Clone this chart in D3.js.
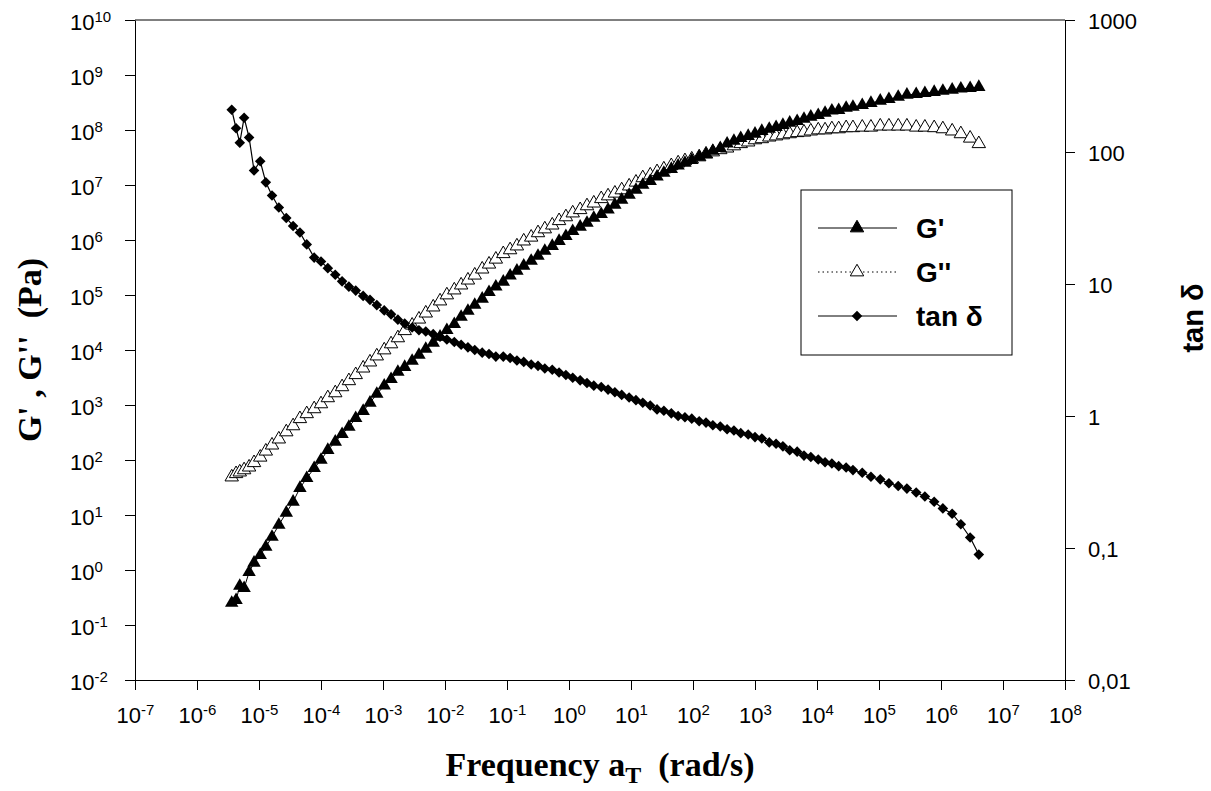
<!DOCTYPE html>
<html>
<head>
<meta charset="utf-8">
<script src="https://cdn.jsdelivr.net/npm/d3@7"></script>
<style>
  body { margin: 0; background: #fff; }
  text { fill: #000; }
</style>
</head>
<body>
<div id="chart"></div>
<script>
// values, stored as log10 (frequency in rad/s, moduli in Pa)
const logFreq = [-5.44, -5.37, -5.31, -5.24, -5.16, -5.08, -4.98, -4.89, -4.79, -4.68, -4.56, -4.45, -4.34,
  -4.23, -4.11, -4.00, -3.89, -3.77, -3.66, -3.55, -3.44, -3.32, -3.21,
  -3.10, -2.98, -2.87, -2.76, -2.65, -2.53, -2.42, -2.31, -2.19, -2.08,
  -1.97, -1.85, -1.74, -1.63, -1.52, -1.40, -1.29, -1.18, -1.06, -0.95,
  -0.84, -0.73, -0.61, -0.50, -0.39, -0.27, -0.16, -0.05, 0.06, 0.18,
  0.29, 0.40, 0.52, 0.63, 0.74, 0.85, 0.97, 1.08, 1.19, 1.31,
  1.42, 1.53, 1.65, 1.76, 1.87, 1.98, 2.10, 2.21, 2.32, 2.44,
  2.55, 2.66, 2.77, 2.89, 3.00, 3.11, 3.23, 3.34, 3.45, 3.56,
  3.68, 3.79, 3.90, 4.02, 4.13, 4.24, 4.35, 4.47, 4.58,
  4.73, 4.87, 5.02, 5.16, 5.31, 5.45, 5.60, 5.74, 5.89, 6.03, 6.18, 6.32, 6.47, 6.61];

const logGp = [-0.60, -0.55, -0.29, -0.33, -0.04, 0.13, 0.27, 0.42, 0.60, 0.82, 1.04, 1.24, 1.49,
  1.67, 1.85, 2.00, 2.18, 2.33, 2.47, 2.60, 2.76, 2.89, 3.04,
  3.20, 3.35, 3.47, 3.60, 3.69, 3.80, 3.91, 4.02, 4.13, 4.24,
  4.36, 4.47, 4.60, 4.71, 4.82, 4.93, 5.05, 5.15, 5.24, 5.35,
  5.44, 5.53, 5.62, 5.71, 5.80, 5.89, 5.98, 6.07, 6.16, 6.24,
  6.31, 6.40, 6.47, 6.55, 6.64, 6.73, 6.82, 6.91, 7.00, 7.07,
  7.15, 7.22, 7.29, 7.35, 7.40, 7.45, 7.51, 7.56, 7.62, 7.67,
  7.75, 7.80, 7.85, 7.89, 7.93, 7.98, 8.02, 8.05, 8.09, 8.13,
  8.16, 8.20, 8.24, 8.27, 8.31, 8.35, 8.36, 8.40, 8.42,
  8.45, 8.49, 8.53, 8.56, 8.60, 8.64, 8.65, 8.67, 8.69, 8.71, 8.73, 8.75, 8.76, 8.78];

const logGpp = [1.69, 1.75, 1.78, 1.82, 1.87, 1.95, 2.05, 2.16, 2.27, 2.38, 2.51, 2.62, 2.75,
  2.84, 2.93, 3.02, 3.13, 3.22, 3.33, 3.44, 3.55, 3.67, 3.78,
  3.89, 4.00, 4.11, 4.22, 4.35, 4.45, 4.56, 4.67, 4.78, 4.89,
  5.00, 5.09, 5.18, 5.27, 5.36, 5.47, 5.56, 5.65, 5.75, 5.82,
  5.89, 5.98, 6.05, 6.13, 6.20, 6.27, 6.35, 6.42, 6.49, 6.55,
  6.62, 6.67, 6.75, 6.80, 6.85, 6.91, 6.98, 7.05, 7.13, 7.18,
  7.24, 7.29, 7.35, 7.40, 7.44, 7.47, 7.51, 7.56, 7.60, 7.64,
  7.67, 7.71, 7.75, 7.78, 7.82, 7.84, 7.87, 7.89, 7.91, 7.93,
  7.95, 7.96, 7.98, 8.00, 8.00, 8.02, 8.02, 8.04, 8.04,
  8.05, 8.05, 8.07, 8.07, 8.07, 8.07, 8.05, 8.05, 8.04, 8.02, 7.98, 7.93, 7.85, 7.75];

const logTan = [2.32, 2.18, 2.07, 2.26, 2.11, 1.86, 1.93, 1.77, 1.67, 1.58, 1.50, 1.44, 1.39,
  1.30, 1.20, 1.17, 1.12, 1.07, 1.02, 0.98, 0.95, 0.91, 0.88,
  0.84, 0.80, 0.77, 0.73, 0.70, 0.67, 0.65, 0.64, 0.62, 0.60,
  0.58, 0.56, 0.54, 0.52, 0.50, 0.48, 0.47, 0.45, 0.45, 0.44,
  0.42, 0.41, 0.39, 0.38, 0.36, 0.35, 0.33, 0.31, 0.29, 0.27,
  0.25, 0.23, 0.22, 0.20, 0.18, 0.16, 0.14, 0.12, 0.10, 0.08,
  0.05, 0.04, 0.02, 0.00, -0.01, -0.02, -0.04, -0.05, -0.07, -0.08,
  -0.10, -0.11, -0.13, -0.14, -0.16, -0.17, -0.20, -0.21, -0.23, -0.26,
  -0.27, -0.30, -0.31, -0.33, -0.35, -0.36, -0.38, -0.39, -0.41,
  -0.43, -0.46, -0.48, -0.51, -0.53, -0.55, -0.58, -0.61, -0.65, -0.70, -0.74, -0.82, -0.92, -1.05];

// tick exponents / labels
const xTickExp = [-7, -6, -5, -4, -3, -2, -1, 0, 1, 2, 3, 4, 5, 6, 7, 8];
const yTickExp = [-2, -1, 0, 1, 2, 3, 4, 5, 6, 7, 8, 9, 10];
const tanTicks = [0.01, 0.1, 1, 10, 100, 1000];
const tanTickLabels = ["0,01", "0,1", "1", "10", "100", "1000"];
const legendLabels = ["G'", "G''", "tan δ"];

const width = 1211, height = 791;
const margin = { top: 20, right: 146, bottom: 111, left: 135 };
const innerW = width - margin.left - margin.right;
const innerH = height - margin.top - margin.bottom;

const svg = d3.select("#chart").append("svg")
  .attr("width", width)
  .attr("height", height)
  .style("font-family", "Arial, 'Liberation Sans', sans-serif");

const g = svg.append("g")
  .attr("transform", `translate(${margin.left},${margin.top})`);

const x = d3.scaleLog().domain([1e-7, 1e8]).range([0, innerW]);
const yG = d3.scaleLog().domain([1e-2, 1e10]).range([innerH, 0]);
const yT = d3.scaleLog().domain([0.01, 1000]).range([innerH, 0]);

const rows = logFreq.map((f, i) => ({
  f: Math.pow(10, f),
  gp: Math.pow(10, logGp[i]),
  gpp: Math.pow(10, logGpp[i]),
  tan: Math.pow(10, logTan[i])
}));

// superscript labels like 10^-3
function powerLabel(sel, exp, base, sup, shift) {
  sel.text(null);
  sel.append("tspan").style("font-size", base + "px").text("10");
  sel.append("tspan").style("font-size", sup + "px").attr("dy", -shift).text(exp);
}

// left axis
const axL = g.append("g")
  .call(d3.axisLeft(yG).tickValues(yTickExp.map(e => Math.pow(10, e)))
    .tickSize(10).tickSizeOuter(0).tickPadding(0));
axL.selectAll("text").each(function (d, i) {
  const t = d3.select(this)
    .attr("text-anchor", "start")
    .attr("x", -65)
    .attr("dy", 0)
    .attr("y", 9);
  powerLabel(t, yTickExp[i], 22, 15, 8);
});

// bottom axis
const axB = g.append("g")
  .attr("transform", `translate(0,${innerH})`)
  .call(d3.axisBottom(x).tickValues(xTickExp.map(e => Math.pow(10, e)))
    .tickSize(10).tickSizeOuter(0));
axB.selectAll("text").each(function (d, i) {
  const t = d3.select(this)
    .attr("text-anchor", "middle")
    .attr("dy", 0)
    .attr("y", 43);
  powerLabel(t, xTickExp[i], 22, 15, 8);
});

// right axis
const axR = g.append("g")
  .attr("transform", `translate(${innerW},0)`)
  .call(d3.axisRight(yT).tickValues(tanTicks)
    .tickFormat((d, i) => tanTickLabels[i])
    .tickSize(10).tickSizeOuter(0));
axR.selectAll("text")
  .attr("x", 23)
  .attr("dy", 0)
  .attr("y", 8)
  .style("font-size", "22px");

// top frame line
g.append("line")
  .attr("x1", 0).attr("x2", innerW)
  .attr("y1", 0).attr("y2", 0)
  .attr("stroke", "#000");

g.selectAll(".domain, .tick line").attr("stroke", "#000").attr("stroke-width", 1);

// lines
const lineGp = d3.line().x(d => x(d.f)).y(d => yG(d.gp));
const lineGpp = d3.line().x(d => x(d.f)).y(d => yG(d.gpp));
const lineTan = d3.line().x(d => x(d.f)).y(d => yT(d.tan));

const tri = d3.symbol().type(d3.symbolTriangle).size(78);
const dia = d3.symbol().type(d3.symbolSquare).size(56);

// G''
g.append("path").datum(rows)
  .attr("d", lineGpp).attr("fill", "none")
  .attr("stroke", "#000").attr("stroke-width", 1).attr("stroke-dasharray", "1.5,3");
g.append("g").selectAll("path").data(rows).join("path")
  .attr("d", tri)
  .attr("transform", d => `translate(${x(d.f)},${yG(d.gpp)})`)
  .attr("fill", "#fff").attr("stroke", "#000").attr("stroke-width", 1);

// G'
g.append("path").datum(rows)
  .attr("d", lineGp).attr("fill", "none")
  .attr("stroke", "#000").attr("stroke-width", 1);
g.append("g").selectAll("path").data(rows).join("path")
  .attr("d", tri)
  .attr("transform", d => `translate(${x(d.f)},${yG(d.gp)})`)
  .attr("fill", "#000");

// tan delta
g.append("path").datum(rows)
  .attr("d", lineTan).attr("fill", "none")
  .attr("stroke", "#000").attr("stroke-width", 1.2);
g.append("g").selectAll("path").data(rows).join("path")
  .attr("d", dia)
  .attr("transform", d => `translate(${x(d.f)},${yT(d.tan)}) rotate(45)`)
  .attr("fill", "#000");

// legend
const legend = svg.append("g").attr("transform", "translate(801,190)");
legend.append("rect")
  .attr("width", 211).attr("height", 165)
  .attr("fill", "#fff").attr("stroke", "#000").attr("stroke-width", 1);

legendLabels.forEach((label, i) => {
  const row = legend.append("g").attr("transform", `translate(0,${38 + i * 44})`);
  row.append("line")
    .attr("x1", 17).attr("x2", 96)
    .attr("stroke", "#000").attr("stroke-width", 1)
    .attr("stroke-dasharray", i === 1 ? "1.5,3" : null);
  if (i === 2) {
    row.append("path").attr("d", dia).attr("transform", "translate(56,0) rotate(45)").attr("fill", "#000");
  } else {
    row.append("path").attr("d", tri).attr("transform", "translate(56,0)")
      .attr("fill", i === 0 ? "#000" : "#fff").attr("stroke", "#000");
  }
  row.append("text")
    .attr("x", 115).attr("y", 10)
    .style("font-size", "28px").style("font-weight", "bold")
    .text(label);
});

// axis titles
svg.append("text")
  .attr("transform", `translate(41,${margin.top + innerH / 2}) rotate(-90)`)
  .attr("text-anchor", "middle")
  .style("font-family", "'Liberation Serif', 'Times New Roman', serif")
  .style("font-weight", "bold").style("font-size", "34px")
  .style("white-space", "pre")
  .text("G' , G''  (Pa)");

const xt = svg.append("text")
  .attr("x", margin.left + innerW / 2).attr("y", 776)
  .attr("text-anchor", "middle")
  .style("font-family", "'Liberation Serif', 'Times New Roman', serif")
  .style("font-weight", "bold").style("font-size", "34px")
  .style("white-space", "pre");
xt.append("tspan").text("Frequency a");
xt.append("tspan").attr("dy", 7).style("font-size", "24px").text("T");
xt.append("tspan").attr("dy", -7).text("  (rad/s)");

svg.append("text")
  .attr("transform", "translate(1203,318) rotate(-90)")
  .attr("text-anchor", "middle")
  .style("font-weight", "bold").style("font-size", "29px")
  .text("tan δ");
</script>
</body>
</html>
